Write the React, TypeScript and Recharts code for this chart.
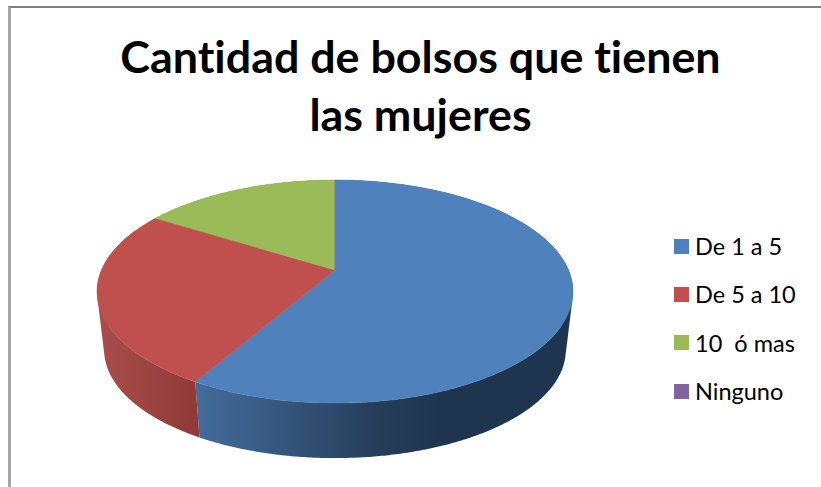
import { Cell, Legend, Pie, PieChart } from 'recharts'

const categories = ['De 1 a 5', 'De 5 a 10', '10  ó mas', 'Ninguno']
const shares = [58.3, 25.6, 16.1, 0]
const titleLines = ['Cantidad de bolsos que tienen', 'las mujeres']
const topColors = ['#4f81bd', '#c0504d', '#9bbb59', '#8064a2']
const sideColors = ['url(#sideBlue)', 'url(#sideRed)', '#76923c', '#5f497a']

const rows = categories.map((name, i) => ({ name, value: shares[i] }))

// tilt of the disc: vertical squash, perspective strength, lower rim shrink and drop
const SQUASH = 0.46
const PERSPECTIVE = 0.193
const RIM_SCALE = 0.97
const RIM_DROP = 59

function project(cx: number, cy: number, r: number, deg: number, scale = 1, drop = 0) {
  const u = Math.cos((deg * Math.PI) / 180)
  const v = Math.sin((deg * Math.PI) / 180)
  const w = 1 + PERSPECTIVE * v
  return [cx + (r * scale * u) / w, cy + drop - (r * SQUASH * scale * v) / w]
}

function arcPoints(p: any, scale = 1, drop = 0) {
  const pts = []
  const steps = Math.max(1, Math.ceil(Math.abs(p.endAngle - p.startAngle) * 2))
  for (let i = 0; i <= steps; i++) {
    const deg = p.startAngle + ((p.endAngle - p.startAngle) * i) / steps
    pts.push(project(p.cx, p.cy, p.outerRadius, deg, scale, drop))
  }
  return pts
}

const toPath = (pts: number[][]) => 'M' + pts.map((q) => q[0].toFixed(2) + ' ' + q[1].toFixed(2)).join('L') + 'Z'

function signedArea(pts: number[][]) {
  return pts.reduce((sum, q, i) => {
    const n = pts[(i + 1) % pts.length]
    return sum + q[0] * n[1] - n[0] * q[1]
  }, 0)
}

function TopSlice(p: any) {
  return <path d={toPath([[p.cx, p.cy], ...arcPoints(p)])} fill={p.fill} stroke={p.fill} strokeWidth={0.5} />
}

// wall is swept as small quads so the silhouette between the two rims stays filled;
// all quads get the same winding, otherwise overlaps at the far left/right would cancel
function SideSlice(p: any) {
  const upper = arcPoints(p)
  const lower = arcPoints(p, RIM_SCALE, RIM_DROP)
  const quads = upper.slice(1).map((q, i) => {
    const quad = [upper[i], q, lower[i + 1], lower[i]]
    return toPath(signedArea(quad) < 0 ? quad.reverse() : quad)
  })
  return <path d={quads.join('')} fill={p.fill} />
}

function LegendRows({ payload }: any) {
  // the wall series is only there for depth, so it stays out of the key
  const items = (payload || []).filter((item: any) => item.type !== 'none')
  return (
    <div>
      {items.map((item: any) => (
        <div key={item.value} style={{ display: 'flex', alignItems: 'center', height: 48.3 }}>
          <span style={{ width: 15, height: 15, marginRight: 6, background: item.color }} />
          <span style={{ fontFamily: 'Lato', fontSize: 23.5, color: '#000', whiteSpace: 'pre' }}>{item.value}</span>
        </div>
      ))}
    </div>
  )
}

export default function App() {
  return (
    <div style={{ position: 'absolute', left: 0, top: 0, width: 821, height: 487, background: '#fff', overflow: 'hidden' }}>
      <div
        style={{
          position: 'absolute',
          left: 8,
          top: 6,
          width: 813,
          height: 481,
          borderTop: '2px solid #808080',
          borderLeft: '3px solid #a6a6a6',
        }}
      />
      <PieChart
        width={821}
        height={487}
        margin={{ top: 0, right: 0, bottom: 0, left: 0 }}
        style={{ position: 'absolute', left: 0, top: 0 }}
      >
        <defs>
          <linearGradient id="sideBlue" gradientUnits="userSpaceOnUse" x1={197} x2={440} y1={0} y2={0}>
            <stop offset="0" stopColor="#436c9c" />
            <stop offset="0.75" stopColor="#263d59" />
            <stop offset="1" stopColor="#1f344f" />
          </linearGradient>
          <linearGradient id="sideRed" gradientUnits="userSpaceOnUse" x1={100} x2={200} y1={0} y2={0}>
            <stop offset="0" stopColor="#a94d49" />
            <stop offset="1" stopColor="#8f3a38" />
          </linearGradient>
        </defs>
        <text
          textAnchor="middle"
          fontFamily="Lato"
          fontWeight={700}
          fontSize={44.8}
          fill="#000"
          style={{ fontVariantLigatures: 'none' }}
        >
          <tspan x={420.5} y={73}>
            {titleLines[0]}
          </tspan>
          <tspan x={420.5} y={131}>
            {titleLines[1]}
          </tspan>
        </text>
        <Pie
          data={rows}
          dataKey="value"
          nameKey="name"
          cx={335}
          cy={270}
          outerRadius={233.5}
          startAngle={90}
          endAngle={-270}
          legendType="none"
          stroke="none"
          shape={SideSlice}
          isAnimationActive={false}
        >
          {rows.map((row, i) => (
            <Cell key={row.name} fill={sideColors[i]} />
          ))}
        </Pie>
        <Pie
          data={rows}
          dataKey="value"
          nameKey="name"
          cx={335}
          cy={270}
          outerRadius={233.5}
          startAngle={90}
          endAngle={-270}
          stroke="none"
          shape={TopSlice}
          isAnimationActive={false}
        >
          {rows.map((row, i) => (
            <Cell key={row.name} fill={topColors[i]} />
          ))}
        </Pie>
        <Legend content={LegendRows} itemSorter={null} wrapperStyle={{ left: 674, top: 222, width: 140 }} />
      </PieChart>
    </div>
  )
}
